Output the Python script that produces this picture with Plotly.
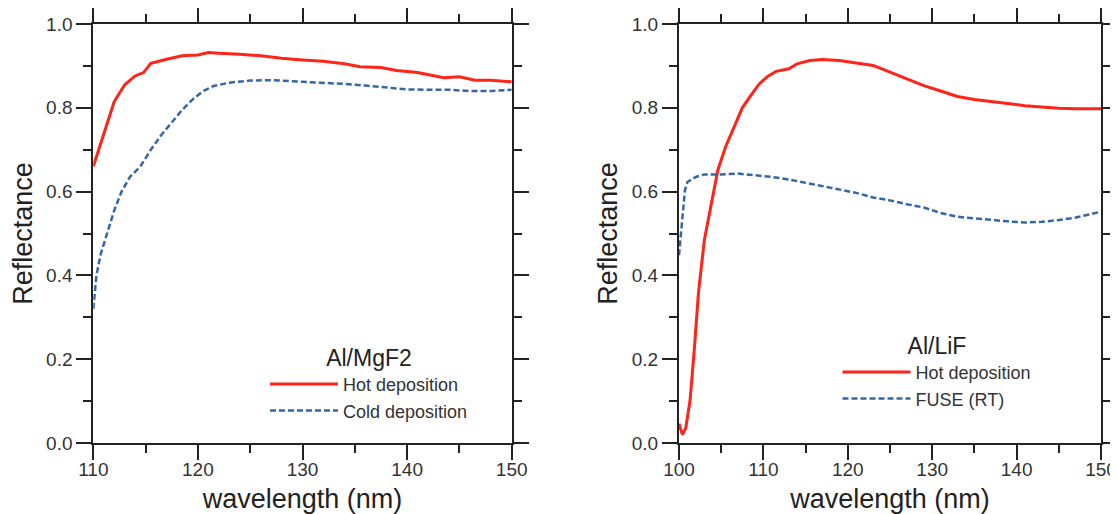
import plotly.graph_objects as go

# ---- Left panel: Al/MgF2 ----
mgf2_hot_wl = [110, 111, 112, 113, 114, 114.8, 115.5, 117, 118.5, 120, 121, 122, 124, 126, 128,
               130, 132, 134, 135.5, 137.5, 139, 141, 143.5, 145, 146.5, 148, 150]
mgf2_hot_r = [0.66, 0.739, 0.815, 0.855, 0.876, 0.884, 0.906, 0.916, 0.924, 0.926, 0.932, 0.930,
              0.928, 0.924, 0.918, 0.914, 0.911, 0.905, 0.898, 0.896, 0.889, 0.884, 0.872, 0.874,
              0.866, 0.866, 0.862]

mgf2_cold_wl = [110, 110.3, 110.7, 111.3, 112, 112.7, 113.5, 114.5, 115.5, 116.5, 117.5, 118.5,
                119.5, 120.5, 121.5, 123, 125, 127, 130, 132, 134, 136, 138, 140, 142, 144, 146,
                148, 150]
mgf2_cold_r = [0.32, 0.40, 0.45, 0.50, 0.555, 0.60, 0.635, 0.66, 0.70, 0.735, 0.765, 0.795, 0.82,
               0.84, 0.852, 0.86, 0.865, 0.866, 0.862, 0.860, 0.857, 0.853, 0.848, 0.844, 0.843,
               0.843, 0.840, 0.840, 0.843]

# ---- Right panel: Al/LiF ----
lif_hot_wl = [100, 100.4, 100.8, 101.3, 101.8, 102.3, 103, 103.8, 104.6, 105.5, 106.5, 107.5,
              108.5, 109.5, 110.5, 111.5, 113, 114, 115.5, 117, 119, 121, 123, 125, 127, 129,
              131, 133, 135, 137, 139, 141, 143, 145, 147, 150]
lif_hot_r = [0.046, 0.02, 0.036, 0.10, 0.22, 0.357, 0.484, 0.571, 0.651, 0.706, 0.754, 0.80,
             0.829, 0.857, 0.875, 0.887, 0.893, 0.905, 0.913, 0.915, 0.913, 0.907, 0.901, 0.885,
             0.869, 0.853, 0.840, 0.827, 0.820, 0.815, 0.810, 0.805, 0.802, 0.799, 0.798, 0.798]

lif_fuse_wl = [100, 100.4, 100.7, 101, 102, 103, 105, 107, 109, 111, 113, 115, 117, 119, 121, 123,
               125, 127, 129, 131, 133, 135, 137, 139, 141, 143, 145, 147, 150]
lif_fuse_r = [0.448, 0.532, 0.603, 0.623, 0.635, 0.641, 0.641, 0.643, 0.639, 0.635, 0.629, 0.621,
              0.613, 0.606, 0.597, 0.586, 0.579, 0.570, 0.562, 0.549, 0.540, 0.536, 0.532, 0.529,
              0.526, 0.528, 0.532, 0.538, 0.552]

RED = "#FF2318"
BLUE = "#3566A6"
FONT = "Liberation Sans, Arial, sans-serif"
AXC = "#222222"

W, H = 1110, 506   # page body has an 8px margin inside the 1118x514 window
OFF = 8


def px_x(p):
    return (p - OFF) / W


def px_y(p):
    return 1 - (p - OFF) / H


fig = go.Figure()
fig.add_trace(go.Scatter(x=mgf2_hot_wl, y=mgf2_hot_r, mode="lines", name="Hot deposition",
                         line=dict(color=RED, width=3), xaxis="x", yaxis="y", legend="legend"))
fig.add_trace(go.Scatter(x=mgf2_cold_wl, y=mgf2_cold_r, mode="lines", name="Cold deposition",
                         line=dict(color=BLUE, width=2.5, dash="6px,3px"), xaxis="x", yaxis="y",
                         legend="legend"))
fig.add_trace(go.Scatter(x=lif_hot_wl, y=lif_hot_r, mode="lines", name="Hot deposition",
                         line=dict(color=RED, width=3), xaxis="x2", yaxis="y2", legend="legend2"))
fig.add_trace(go.Scatter(x=lif_fuse_wl, y=lif_fuse_r, mode="lines", name="FUSE (RT)",
                         line=dict(color=BLUE, width=2.5, dash="6px,3px"), xaxis="x2", yaxis="y2",
                         legend="legend2"))


def xax(domain, rng, anchor):
    return dict(domain=domain, range=rng, anchor=anchor, dtick=10, tick0=0,
                automargin=False,
                showline=True, linecolor=AXC, linewidth=2, mirror="ticks",
                ticks="outside", ticklen=15, tickwidth=2, tickcolor=AXC,
                minor=dict(dtick=5, ticklen=8, tickwidth=2, tickcolor=AXC, ticks="outside"),
                showgrid=False, zeroline=False, ticklabelstandoff=-7,
                tickfont=dict(family=FONT, size=19, color="#333333"),
                title=dict(text="wavelength (nm)", font=dict(family=FONT, size=27, color="#222222"),
                           standoff=10))


def yax(domain, anchor, standoff):
    return dict(domain=domain, range=[0, 1.0], anchor=anchor, dtick=0.2, tick0=0,
                tickformat=".1f", automargin=False,
                showline=True, linecolor=AXC, linewidth=2, mirror="ticks",
                ticks="outside", ticklen=15, tickwidth=2, tickcolor=AXC,
                minor=dict(dtick=0.1, ticklen=8, tickwidth=2, tickcolor=AXC, ticks="outside"),
                showgrid=False, zeroline=False,
                tickfont=dict(family=FONT, size=19, color="#333333"),
                title=dict(text="Reflectance", font=dict(family=FONT, size=27, color="#222222"),
                           standoff=standoff))


ydom = [px_y(443), px_y(24)]
fig.update_layout(
    width=W, height=H,
    margin=dict(l=0, r=0, t=0, b=0, autoexpand=False),
    paper_bgcolor="white", plot_bgcolor="white",
    font=dict(family=FONT, color="#222222"),
    xaxis=xax([px_x(93.3), px_x(511.7)], [110, 150], "y"),
    yaxis=yax(ydom, "x", 8),
    xaxis2=xax([px_x(679), px_x(1101)], [100, 150], "y2"),
    yaxis2=yax(ydom, "x2", 6),
    legend=dict(x=px_x(265), y=px_y(336), xanchor="left", yanchor="top",
                bgcolor="rgba(0,0,0,0)", tracegroupgap=0, itemwidth=68,
                font=dict(family=FONT, size=18, color="#333333"),
                title=dict(text="Al/MgF2", side="top center",
                           font=dict(family=FONT, size=23, color="#222222"))),
    legend2=dict(x=px_x(837.5), y=px_y(324), xanchor="left", yanchor="top",
                 bgcolor="rgba(0,0,0,0)", tracegroupgap=0, itemwidth=68,
                 font=dict(family=FONT, size=18, color="#333333"),
                 title=dict(text="Al/LiF", side="top center",
                            font=dict(family=FONT, size=23, color="#222222"))),
    showlegend=True,
)

fig.write_html("out.html")
